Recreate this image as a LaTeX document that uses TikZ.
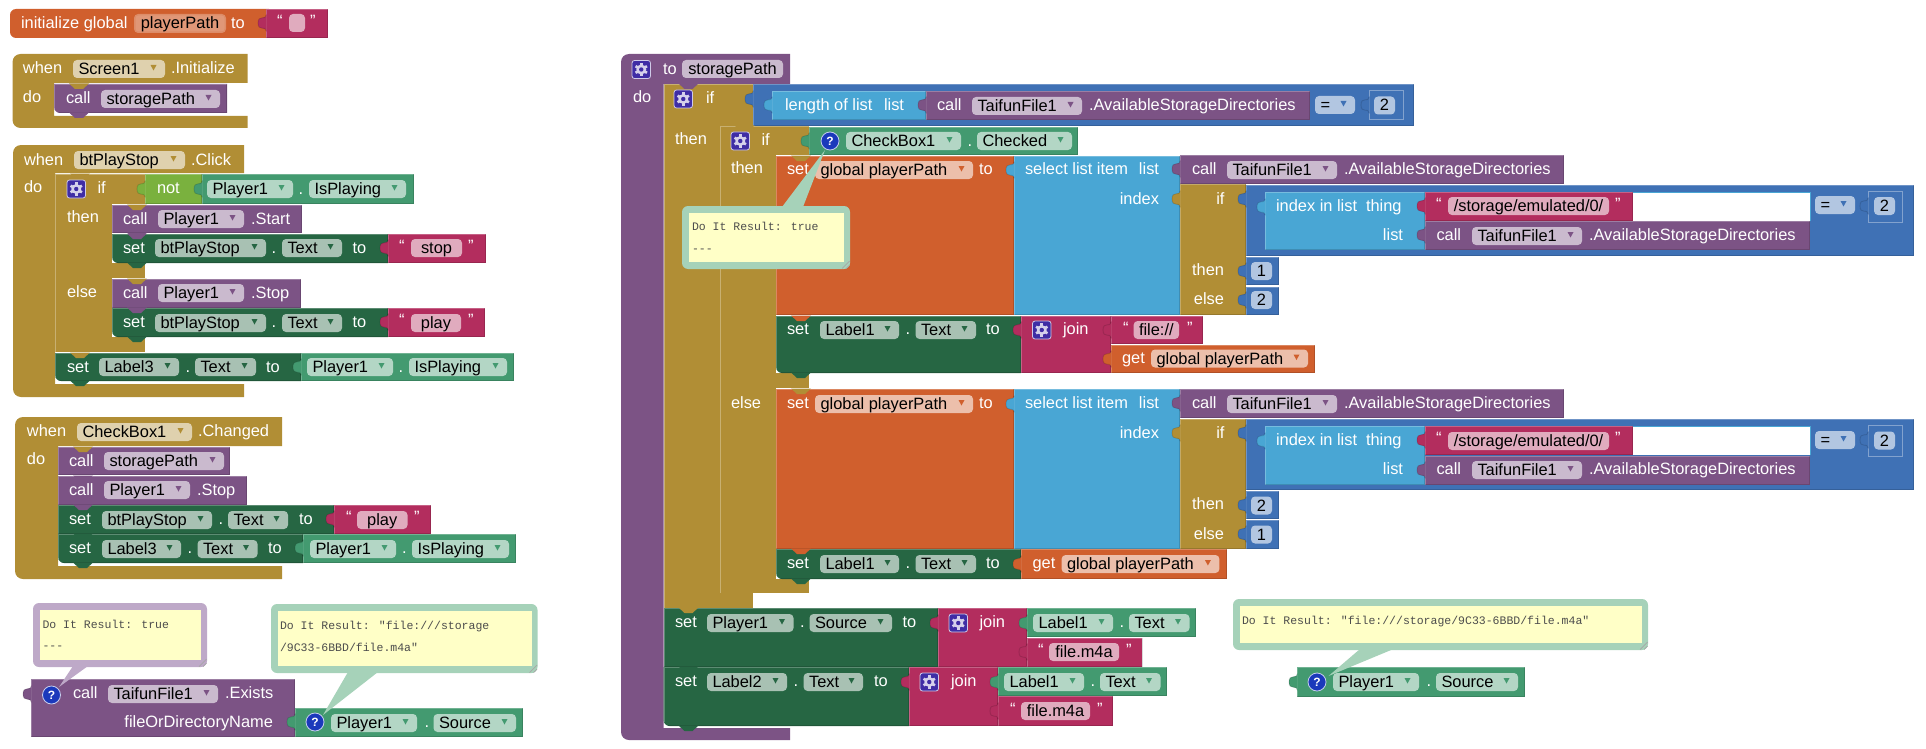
\documentclass[tikz,border=0pt]{standalone}
\usepackage{fontspec}
\setmainfont{Liberation Sans}
\newfontfamily\mymono{Liberation Mono}
\definecolor{corange}{HTML}{D05F2D}
\definecolor{cgold}{HTML}{B18E35}
\definecolor{cpurple}{HTML}{7C5385}
\definecolor{cpink}{HTML}{B32D5E}
\definecolor{cdk}{HTML}{266643}
\definecolor{cgreen}{HTML}{439A70}
\definecolor{clime}{HTML}{7AB13E}
\definecolor{clb}{HTML}{49A6D4}
\definecolor{cblue}{HTML}{3F71B5}
\definecolor{cindigo}{HTML}{3F2DA5}
\definecolor{cq}{HTML}{1B39BB}
\definecolor{cyel}{HTML}{FFFFC7}
\definecolor{bgreen}{HTML}{A6D2B9}
\definecolor{bpurple}{HTML}{BEA9C8}
\tikzset{
  lab/.style={inner sep=0pt,outer sep=0pt,anchor=base west,font=\fontsize{16.4}{18}\selectfont},
  labr/.style={inner sep=0pt,outer sep=0pt,anchor=base east,font=\fontsize{16.4}{18}\selectfont},
  labc/.style={inner sep=0pt,outer sep=0pt,anchor=base,font=\fontsize{16.4}{18}\selectfont},
  monolab/.style={inner sep=0pt,outer sep=0pt,anchor=base west,font=\mymono\fontsize{11.5}{13}\selectfont,text=black!70},
  fieldbg/.style={fill=white,fill opacity=.6,rounded corners=4},
}
\newcount\nn
\newcommand\bumpn{\global\advance\nn by 1 }
% white label: x, y-centre, text
\newcommand\tw[3]{\bumpn\node[lab,text=white] (t\the\nn) at (#1,{#2+5.5}) {#3};}
\newcommand\tr[3]{\bumpn\node[labr,text=white] (t\the\nn) at (#1,{#2+5.5}) {#3};}
% plain block
\newcommand\bk[5]{\fill[#1] (#2,#3) rectangle (#4,#5);
  \draw[white,opacity=.25] (#2+.5,#5) -- (#2+.5,#3+.5) -- (#4,#3+.5);
  \draw[black,opacity=.15] (#2,#5-.5) -- (#4-.5,#5-.5) -- (#4-.5,#3);}
% block with rounded lower-left corner
\newcommand\bkr[5]{\fill[#1] (#4,#5) [rounded corners=6] -- (#2,#5) [sharp corners] -- (#2,#3) -- (#4,#3) -- cycle;
  \draw[white,opacity=.25] (#2+.5,#5-4) -- (#2+.5,#3+.5) -- (#4,#3+.5);
  \draw[black,opacity=.15] (#2+4,#5-.5) -- (#4-.5,#5-.5) -- (#4-.5,#3);}
% C-shaped hat block: colour,x1,y1,x2,ytopend,xinner,ybar,y2
\newcommand\cb[8]{\fill[#1] (#4,#3) [rounded corners=8] -- (#2,#3) -- (#2,#8) [sharp corners] -- (#4,#8) -- (#4,#7) -- (#6,#7) -- (#6,#5) -- (#4,#5) -- cycle;}
% puzzle tab: colour, x, y-centre
\newcommand\tb[3]{\fill[#1] (#2+.5,#3-9) .. controls (#2,#3-2) and (#2-8,#3-9) .. (#2-8,#3) .. controls (#2-8,#3+9) and (#2,#3+2) .. (#2+.5,#3+9) -- cycle;
  \draw[black,opacity=.14] (#2,#3-8) .. controls (#2,#3-2) and (#2-8,#3-9) .. (#2-8,#3) .. controls (#2-8,#3+9) and (#2,#3+2) .. (#2,#3+8);}
% notch: colour, block left x, y
\newcommand\nt[3]{\fill[#1] (#2+15,#3-.5) -- (#2+21,#3+5) -- (#2+29,#3+5) -- (#2+35,#3-.5) -- cycle;}
% dropdown field: colour,x1,x2,ytop,text
\newcommand\dd[5]{\fill[fieldbg] (#2,#4) rectangle (#3,#4+18);
  \fill[#1] (#3-14.5,#4+5) -- (#3-8.5,#4+5) -- (#3-11.5,#4+10.5) -- cycle;
  \bumpn\node[lab,text=black] (t\the\nn) at (#2+5.5,#4+14.5) {#5};}
% plain field: x1,x2,ytop,text
\newcommand\tf[4]{\fill[fieldbg] (#1,#3) rectangle (#2,#3+18);
  \bumpn\node[labc,text=black] (t\the\nn) at ({(#1+#2)/2},#3+14.5) {#4};}
% text block quotes
\newcommand\qq[3]{\tw{#1}{#3-2}{“}\tw{#2}{#3-2}{”}}
% gear icon: x,y top-left
\newcommand\gr[2]{\fill[cindigo,draw=white!75!cindigo,rounded corners=2.5] (#1,#2) rectangle (#1+18.5,#2+18);
  \foreach \aa in {0,60,...,300}{\draw[white!78!cindigo,line width=2.6] (#1+9.25,#2+9) ++(\aa+30:4) -- ++(\aa+30:2.6);}
  \fill[white!78!cindigo] (#1+9.25,#2+9) circle (5);
  \fill[cindigo] (#1+9.25,#2+9) circle (2.2);}
% question icon
\newcommand\qm[2]{\fill[cq,draw=white!75!cq,line width=.8] (#1,#2) circle (9);
  \bumpn\node[inner sep=0pt,text=white,font=\bfseries\fontsize{12}{14}\selectfont] (t\the\nn) at (#1,#2) {?};}
% bubble
\newcommand\bub[5]{\fill[#1,rounded corners=6] (#2,#3) rectangle (#4,#5);
  \fill[cyel] (#2+7,#3+7) rectangle (#4-6,#5-7);
  \draw[black!35,line width=.7] (#4-8,#5-.5) -- (#4-.5,#5-8) (#4-4,#5-.5) -- (#4-.5,#5-4);}
\newcommand\tail[6]{\fill[#1] (#2,#4) -- (#3,#4) -- (#5,#6) -- cycle;}
\newcommand\mt[3]{\bumpn\node[monolab] (t\the\nn) at (#1,#2+4) {#3};}
\begin{document}
\begin{tikzpicture}[x=1pt,y=-1pt,line width=.8pt]
\useasboundingbox (0,0) rectangle (1926,749);
% ---- initialize global
\fill[corange,rounded corners=6] (10,9) rectangle (275,38);
\fill[corange] (260,9) rectangle (266,38);
\tw{21}{23}{initialize global}
\fill[white!28!corange,rounded corners=4] (134,14) rectangle (226,33);
\fill[white!35!corange,rounded corners=3] (135.5,15.5) rectangle (224.5,31.5);
\bumpn\node[labc,text=black] (t\the\nn) at (180,28.5) {playerPath};
\tw{231}{23}{to}
\bk{cpink}{266}{9}{328}{38}
\tb{cpink}{266}{23}
\qq{277}{310}{23}
\fill[fieldbg] (289,14) rectangle (305,32);
% ---- Screen1.Initialize
\cb{cgold}{12.5}{54}{247.5}{83}{54}{116}{128}
\tw{23}{68}{when}
\dd{cgold}{73}{165}{60}{Screen1}
\tw{171}{68}{.Initialize}
\tw{23}{97}{do}
\bkr{cpurple}{54}{84}{227}{113}
\nt{cgold}{54}{84}
\nt{cpurple}{54}{113}
\tw{66}{98}{call}
\dd{cpurple}{101}{220}{90}{storagePath}
% ---- btPlayStop.Click
\cb{cgold}{13}{145}{244}{173}{55}{384}{397}
\tw{24}{160}{when}
\dd{cgold}{74}{185}{151}{btPlayStop}
\tw{191}{160}{.Click}
\tw{24}{187}{do}
\fill[cgold] (55,174) rectangle (112,352);
\fill[cgold] (55,174) rectangle (145,204);
\fill[cgold] (55,263) rectangle (145,278);
\fill[cgold] (55,337) rectangle (145,352);
\draw[white,opacity=.3] (55.5,352) -- (55.5,174.5) -- (145,174.5);
\nt{cgold}{55}{174}
\gr{67}{180}
\tw{97.5}{188}{if}
\tw{67}{217}{then}
\tw{67}{292}{else}
\bk{clime}{145}{174}{202}{204}
\tb{clime}{145}{189}
\tw{157}{188}{not}
\bk{cgreen}{202}{174}{413.6}{204}
\tb{cgreen}{202}{189}
\dd{cgreen}{207}{293}{180}{Player1}
\tw{298.5}{189}{.}
\dd{cgreen}{309}{406}{180}{IsPlaying}
\bk{cpurple}{112}{205}{302}{233}
\nt{cgold}{112}{205}
\nt{cpurple}{112}{233}
\tw{123}{219}{call}
\dd{cpurple}{158}{244}{210}{Player1}
\tw{251}{219}{.Start}
\bkr{cdk}{112}{234}{388}{263}
\nt{cpurple}{112}{234}
\nt{cdk}{112}{263}
\tw{123}{248}{set}
\dd{cdk}{155}{266}{239}{btPlayStop}
\tw{271.5}{248}{.}
\dd{cdk}{282}{342}{239}{Text}
\tw{352.5}{248}{to}
\bk{cpink}{388}{234}{486}{263}
\tb{cpink}{388}{248}
\qq{399}{468}{248}
\tf{411}{462}{239}{stop}
\bk{cpurple}{112}{279}{301}{308}
\nt{cgold}{112}{279}
\nt{cpurple}{112}{308}
\tw{123}{293}{call}
\dd{cpurple}{158}{244}{284}{Player1}
\tw{251}{293}{.Stop}
\bkr{cdk}{112}{308}{388}{337}
\nt{cpurple}{112}{308}
\nt{cdk}{112}{337}
\tw{123}{322}{set}
\dd{cdk}{155}{266}{314}{btPlayStop}
\tw{271.5}{322}{.}
\dd{cdk}{282}{342}{314}{Text}
\tw{352.5}{322}{to}
\bk{cpink}{388}{308}{485}{337}
\tb{cpink}{388}{322}
\qq{399}{468}{322}
\tf{411}{461}{314}{play}
\bkr{cdk}{55}{353}{301}{381}
\nt{cgold}{55}{353}
\nt{cdk}{55}{381}
\tw{67}{367}{set}
\dd{cdk}{99}{179}{358}{Label3}
\tw{185.5}{367}{.}
\dd{cdk}{195}{256}{358}{Text}
\tw{266}{367}{to}
\bk{cgreen}{301}{353}{513.6}{381}
\tb{cgreen}{301}{367}
\dd{cgreen}{307}{393}{358}{Player1}
\tw{398.5}{367}{.}
\dd{cgreen}{409}{507}{358}{IsPlaying}
% ---- CheckBox1.Changed
\cb{cgold}{15}{417}{282}{446}{58}{566}{579}
\tw{27}{431}{when}
\dd{cgold}{77}{192}{423}{CheckBox1}
\tw{198}{431}{.Changed}
\tw{27}{459}{do}
\bk{cpurple}{58}{447}{230}{475}
\nt{cgold}{58}{447}
\tw{69}{461}{call}
\dd{cpurple}{104}{224}{452}{storagePath}
\bk{cpurple}{58}{476}{247}{505}
\nt{cpurple}{58}{476}
\tw{69}{490}{call}
\dd{cpurple}{104}{190}{481}{Player1}
\tw{197}{490}{.Stop}
\bk{cdk}{58}{505}{334}{534}
\nt{cpurple}{58}{505}
\tw{69}{519}{set}
\dd{cdk}{102}{212}{511}{btPlayStop}
\tw{218.5}{519}{.}
\dd{cdk}{228}{288}{511}{Text}
\tw{299}{519}{to}
\bk{cpink}{334}{505}{431}{534}
\tb{cpink}{334}{519}
\qq{346}{414}{519}
\tf{357}{407.5}{511}{play}
\bkr{cdk}{58}{534}{303}{563}
\nt{cdk}{58}{534}
\nt{cdk}{58}{563}
\tw{69}{548}{set}
\dd{cdk}{102}{181}{540}{Label3}
\tw{187.5}{548}{.}
\dd{cdk}{197.5}{257.5}{540}{Text}
\tw{268}{548}{to}
\bk{cgreen}{303}{534}{516}{563}
\tb{cgreen}{303}{548}
\dd{cgreen}{310}{396}{540}{Player1}
\tw{402}{548}{.}
\dd{cgreen}{412}{509}{540}{IsPlaying}
% ---- TaifunFile1.Exists
\bk{cpurple}{31}{679}{295}{737}
\tb{cpurple}{31}{694}
\tw{73}{693}{call}
\dd{cpurple}{108}{218}{685}{TaifunFile1}
\tw{225}{693}{.Exists}
\tr{273}{722}{fileOrDirectoryName}
\bk{cgreen}{295}{708}{523}{737}
\tb{cgreen}{295}{722}
\dd{cgreen}{331}{417}{714}{Player1}
\tw{424.5}{722}{.}
\dd{cgreen}{433.5}{516}{714}{Source}
\qm{51.5}{695}
\qm{315}{722}
\bub{bpurple}{33}{603}{207}{667}
\tail{bpurple}{73}{88}{666}{59}{687}
\mt{42.5}{624}{Do It Result: true}
\mt{42.5}{645}{---}
\bub{bgreen}{271}{604}{537.5}{673}
\tail{bgreen}{348}{378}{672}{323}{715}
\mt{280}{625}{Do It Result: "file:///storage}
\mt{280}{647}{/9C33-6BBD/file.m4a"}
% ---- procedure storagePath
\cb{cpurple}{621}{54}{790}{84}{663.5}{728}{740}
\gr{632}{60.5}
\tw{663}{69}{to}
\tf{682}{783}{60}{storagePath}
\tw{633}{97}{do}
% outer if
\fill[cgold] (663.5,84) rectangle (719.5,608);
\fill[cgold] (663.5,84) rectangle (753,126);
\fill[cgold] (663.5,593) rectangle (753,608);
\draw[white,opacity=.3] (664,608) -- (664,84.5) -- (753,84.5);
\nt{cpurple}{663.5}{84}
\gr{674}{90}
\tw{706}{98}{if}
\tw{675}{139}{then}
\bk{cblue}{753}{84}{1414}{126}
\tb{cblue}{753}{99}
\bk{clb}{772}{91}{926}{120}
\tb{clb}{772}{105}
\tw{785}{105}{length of list}
\tw{884}{105}{list}
\bk{cpurple}{926}{91}{1310}{120}
\tb{cpurple}{926}{105}
\tw{937}{105}{call}
\dd{cpurple}{972}{1082}{97}{TaifunFile1}
\tw{1089}{105}{.AvailableStorageDirectories}
\dd{cblue}{1315}{1355}{96}{=}
\draw[white,opacity=.35] (1369,90.5) rectangle (1403,119.5);
\tb{cblue}{1369}{105}
\tf{1374}{1395}{96.5}{2}
% inner if
\fill[cgold] (719.5,126) rectangle (776,593);
\fill[cgold] (719.5,126) rectangle (809,155);
\fill[cgold] (719.5,373) rectangle (809,388);
\fill[cgold] (719.5,579) rectangle (809,593);
\draw[white,opacity=.3] (720,593) -- (720,126.5) -- (809,126.5);
\nt{cgold}{719.5}{126}
\gr{731}{132}
\tw{761.5}{140}{if}
\tw{731}{168}{then}
\tw{731}{403}{else}
\bk{cgreen}{809}{127}{1078}{155}
\tb{cgreen}{809}{141}
\dd{cgreen}{846}{961}{132}{CheckBox1}
\tw{967.5}{141}{.}
\dd{cgreen}{977}{1072}{132}{Checked}
% first set global
\bk{corange}{776}{156}{1014}{315}
\nt{cgold}{776}{156}
\tw{787}{169}{set}
\dd{corange}{815}{973}{161}{global playerPath}
\tw{979}{169}{to}
\bk{clb}{1014}{156}{1180}{315}
\tb{clb}{1014}{170}
\tw{1025}{169}{select list item}
\tr{1159}{169}{list}
\tr{1159}{199}{index}
\bk{cpurple}{1180}{155}{1564}{184}
\tb{cpurple}{1180}{169}
\tw{1192}{169}{call}
\dd{cpurple}{1227}{1337}{161}{TaifunFile1}
\tw{1344}{169}{.AvailableStorageDirectories}
\bk{cgold}{1180}{184}{1246}{315}
\tb{cgold}{1180}{199}
\tr{1224.5}{199}{if}
\tr{1224}{270}{then}
\tr{1224}{299}{else}
\bk{cblue}{1246}{185}{1914}{256}
\tb{cblue}{1246}{199}
\fill[white] (1633,192) rectangle (1810,221);
\draw[clb,line width=.5] (1633,192) -- (1810,192) -- (1810,221);
\bk{clb}{1265}{192}{1425}{250}
\tb{clb}{1265}{207}
\tw{1276}{206}{index in list}
\tw{1366}{206}{thing}
\tr{1403}{235}{list}
\bk{cpink}{1425}{192}{1633}{221}
\tb{cpink}{1425}{206}
\qq{1436}{1615}{206}
\tf{1448}{1609}{197}{/storage/emulated/0/}
\bk{cpurple}{1425}{221}{1810}{250}
\tb{cpurple}{1425}{235}
\tw{1436.5}{235}{call}
\dd{cpurple}{1472}{1582}{227}{TaifunFile1}
\tw{1589}{235}{.AvailableStorageDirectories}
\dd{cblue}{1815}{1855}{196}{=}
\draw[white,opacity=.35] (1868,191) rectangle (1902.6,222);
\tb{cblue}{1868}{206}
\tf{1874}{1895}{197}{2}
\bk{cblue}{1246}{257}{1279}{285}
\tb{cblue}{1246}{271}
\tf{1251}{1272}{262}{1}
\bk{cblue}{1246}{287}{1279}{315}
\tb{cblue}{1246}{300}
\tf{1251}{1272}{291}{2}
% set Label1 join
\bkr{cdk}{776}{316}{1021}{373}
\nt{corange}{776}{316}
\nt{cdk}{776}{373}
\tw{787}{329}{set}
\dd{cdk}{820}{899}{321}{Label1}
\tw{905.5}{329}{.}
\dd{cdk}{915.5}{976}{321}{Text}
\tw{986}{329}{to}
\bk{cpink}{1021}{316}{1111}{373}
\tb{cpink}{1021}{330}
\gr{1032.5}{321}
\tw{1063}{329}{join}
\bk{cpink}{1111}{316}{1202.6}{344}
\tb{cpink}{1111}{330}
\qq{1123}{1187}{330}
\tf{1133.6}{1179}{321}{file://}
\bk{corange}{1111}{345}{1315}{373}
\tb{corange}{1111}{359}
\tw{1122}{358}{get}
\dd{corange}{1151}{1308}{349.5}{global playerPath}
% second set global
\bk{corange}{776}{389}{1014}{549}
\nt{cgold}{776}{389}
\tw{787}{403}{set}
\dd{corange}{815}{973}{395}{global playerPath}
\tw{979}{403}{to}
\bk{clb}{1014}{389}{1180}{549}
\tb{clb}{1014}{404}
\tw{1025}{403}{select list item}
\tr{1159}{403}{list}
\tr{1159}{433}{index}
\bk{cpurple}{1180}{389}{1564}{418}
\tb{cpurple}{1180}{403}
\tw{1192}{403}{call}
\dd{cpurple}{1227}{1337}{395}{TaifunFile1}
\tw{1344}{403}{.AvailableStorageDirectories}
\bk{cgold}{1180}{419}{1246}{549}
\tb{cgold}{1180}{433}
\tr{1224.5}{433}{if}
\tr{1224}{504}{then}
\tr{1224}{534}{else}
\bk{cblue}{1246}{419}{1914}{490}
\tb{cblue}{1246}{433}
\fill[white] (1633,426) rectangle (1810,455);
\draw[clb,line width=.5] (1633,426) -- (1810,426) -- (1810,455);
\bk{clb}{1265}{426}{1425}{485}
\tb{clb}{1265}{441}
\tw{1276}{440}{index in list}
\tw{1366}{440}{thing}
\tr{1403}{469}{list}
\bk{cpink}{1425}{426}{1633}{455}
\tb{cpink}{1425}{440}
\qq{1436}{1615}{440}
\tf{1448}{1609}{432}{/storage/emulated/0/}
\bk{cpurple}{1425}{456}{1810}{485}
\tb{cpurple}{1425}{470}
\tw{1436.5}{469}{call}
\dd{cpurple}{1472}{1582}{461}{TaifunFile1}
\tw{1589}{469}{.AvailableStorageDirectories}
\dd{cblue}{1815}{1855}{431}{=}
\draw[white,opacity=.35] (1868,425) rectangle (1902.6,456);
\tb{cblue}{1868}{440}
\tf{1874}{1895}{431.5}{2}
\bk{cblue}{1246}{491}{1279}{519}
\tb{cblue}{1246}{505}
\tf{1251}{1272}{496.5}{2}
\bk{cblue}{1246}{520}{1279}{549}
\tb{cblue}{1246}{534}
\tf{1251}{1272}{525.5}{1}
\bkr{cdk}{776}{549}{1021}{579}
\nt{corange}{776}{549}
\nt{cdk}{776}{579}
\tw{787}{563}{set}
\dd{cdk}{820}{899}{555}{Label1}
\tw{905.5}{563}{.}
\dd{cdk}{915.5}{976}{555}{Text}
\tw{986}{563}{to}
\bk{corange}{1021}{549}{1226.6}{579}
\tb{corange}{1021}{564}
\tw{1032.5}{563}{get}
\dd{corange}{1061.6}{1219.4}{555}{global playerPath}
% set Player1.Source
\bk{cdk}{663.5}{608}{938}{667}
\nt{cgold}{663.5}{608}
\tw{675}{622}{set}
\dd{cdk}{707}{793.5}{614}{Player1}
\tw{800}{622}{.}
\dd{cdk}{809.5}{892}{614}{Source}
\tw{902.5}{622}{to}
\bk{cpink}{938}{608}{1027}{667}
\tb{cpink}{938}{623}
\gr{949}{614}
\tw{979.5}{622}{join}
\bk{cgreen}{1027}{608}{1196}{637}
\tb{cgreen}{1027}{623}
\dd{cgreen}{1033}{1113}{614}{Label1}
\tw{1119.5}{622}{.}
\dd{cgreen}{1129}{1189.5}{614}{Text}
\bk{cpink}{1027}{638}{1142.4}{667}
\tb{cpink}{1027}{652}
\qq{1038}{1126}{652}
\tf{1049}{1119}{643}{file.m4a}
% set Label2.Text
\bkr{cdk}{663.5}{667}{909}{726}
\nt{cdk}{663.5}{667}
\nt{cdk}{663.5}{726}
\tw{675}{681}{set}
\dd{cdk}{707}{787}{673}{Label2}
\tw{793.5}{681}{.}
\dd{cdk}{803.6}{863}{673}{Text}
\tw{874}{681}{to}
\bk{cpink}{909}{667}{998}{726}
\tb{cpink}{909}{682}
\gr{920}{673}
\tw{951}{681}{join}
\bk{cgreen}{998}{667}{1167}{696}
\tb{cgreen}{998}{682}
\dd{cgreen}{1004}{1084}{673}{Label1}
\tw{1090.5}{681}{.}
\dd{cgreen}{1100}{1160.5}{673}{Text}
\bk{cpink}{998}{696}{1113}{726}
\tb{cpink}{998}{711}
\qq{1010}{1097}{711}
\tf{1021}{1090}{702}{file.m4a}
% ---- free Player1.Source
\bk{cgreen}{1297}{667}{1525}{697}
\tb{cgreen}{1297}{682}
\dd{cgreen}{1333}{1419}{673}{Player1}
\tw{1426.5}{681}{.}
\dd{cgreen}{1436}{1518}{673}{Source}
\qm{1317}{682}
\qm{830}{141}
% ---- bubbles
\bub{bgreen}{682}{206}{850}{269}
\tail{bgreen}{782}{803}{207}{825}{150}
\mt{692}{226}{Do It Result: true}
\mt{692}{248}{---}
\bub{bgreen}{1233}{599}{1648}{650}
\tail{bgreen}{1360}{1393.5}{649}{1328.5}{676}
\mt{1242}{620}{Do It Result: "file:///storage/9C33-6BBD/file.m4a"}
\end{tikzpicture}
\end{document}
